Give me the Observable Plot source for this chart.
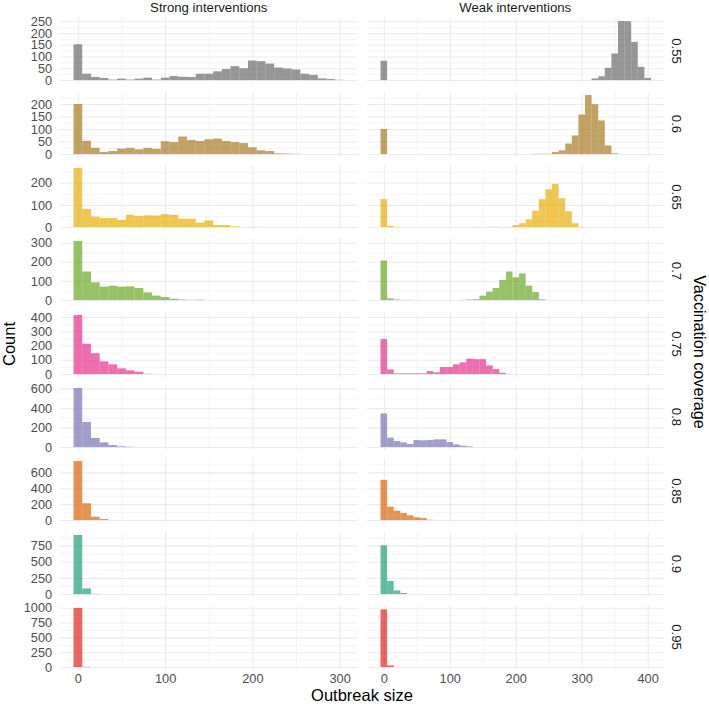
<!DOCTYPE html>
<html><head><meta charset="utf-8">
<script src="https://cdn.jsdelivr.net/npm/d3@7"></script>
<script src="https://cdn.jsdelivr.net/npm/@observablehq/plot@0.6"></script>
<style>
body{margin:0;background:#fff;}
#chart{position:relative;width:709px;height:708px;font-family:"Liberation Sans",Arial,Helvetica,sans-serif;overflow:hidden;}
#chart svg{position:absolute;}
.lbl{position:absolute;white-space:nowrap;line-height:1;}
</style></head><body><div id="chart"></div>
<script>
// ---- data: counts per 10-wide bin (bin k centred on 10*k) ----
const coverages = ["0.55","0.6","0.65","0.7","0.75","0.8","0.85","0.9","0.95"];
const columns = ["Strong interventions","Weak interventions"];
const colors = ["#666666","#A6761D","#E6AB02","#66A61E","#E7298A","#7570B3","#D95F02","#1B9E77","#E41A1C"];

const strong055 = [152,27,13,9,2,6,2,6,10,2,10,17,14,13,27,27,37,47,59,50,83,80,70,53,49,45,27,22,7,4,1];
const weak055   = [82,0,0,0,0,0,0,0,0,0, 0,0,0,0,0,0,0,0,0,0, 0,0,0,0,0,0,0,0,0,0, 0,0,7,16,52,113,251,250,162,56, 9];
const strong06  = [200,53,25,8,12,22,25,19,25,21,51,48,70,56,52,59,62,52,48,44,27,15,12,3,2,1];
const weak06    = [100,0,0,0,0,0,0,0,0,0, 0,0,0,0,0,0,0,0,0,0, 0,0,0,1,1,1,8,15,42,74, 158,236,199,134,34,3];
const strong065 = [267,82,47,41,41,32,55,50,53,52,58,55,38,38,20,30,9,9,3,0,1];
const weak065   = [126,5,1,0,0,0,0,0,0,0, 0,0,0,0,1,0,1,1,0,1, 9,17,35,74,126,171,195,130,71,17, 1];
const strong07  = [309,149,93,70,75,70,72,63,40,23,16,7,3,1,2];
const weak07    = [207,9,3,1,1,0,0,0,0,0, 0,0,1,3,5,23,44,63,105,149, 119,139,75,42,4];
const strong075 = [414,212,146,89,68,40,26,16,2];
const weak075   = [245,33,5,5,5,5,5,21,12,49, 49,68,82,108,104,104,61,35,9];
const strong08  = [607,257,93,48,21,7,3];
const weak08    = [346,96,62,48,31,72,69,72,79,79,51,27,14,7];
const strong085 = [744,211,42,13];
const weak085   = [507,169,118,89,59,34,25,4];
const strong09  = [916,88,3];
const weak09    = [755,202,57,16];
const strong095 = [996,4];
const weak095   = [972,28];

const strongCounts = [strong055,strong06,strong065,strong07,strong075,strong08,strong085,strong09,strong095];
const weakCounts   = [weak055,weak06,weak065,weak07,weak075,weak08,weak085,weak09,weak095];

const yTicks = [[0,50,100,150,200,250],[0,50,100,150,200],[0,100,200],[0,100,200,300],[0,100,200,300,400],
                [0,200,400,600],[0,200,400,600],[0,250,500,750],[0,250,500,750,1000]];
const strongXTicks = [0,100,200,300];
const weakXTicks = [0,100,200,300,400];
const BIN = 10;

// ---- layout ----
const panelLeft = [60, 366.5], PW = 297.5, PH = 65, rowTop0 = 18.3, rowStep = 73.33;
const chart = document.getElementById("chart");
const GRID = "#ebebeb";

function xDomainOf(cols){
  const maxK = d3.max(cols, c => c.length - 1);
  const lo = -BIN/2, hi = maxK*BIN + BIN/2, pad = 0.05*(hi-lo);
  return [lo-pad, hi+pad];
}
const xDomains = [xDomainOf(strongCounts), xDomainOf(weakCounts)];
const xTicks = [strongXTicks, weakXTicks];
function minorOf(ticks, dom){
  const s = ticks[1]-ticks[0];
  const m = [ticks[0]-s/2, ...ticks.map(t => t + s/2)];
  return m.filter(v => v >= dom[0] && v <= dom[1]);
}
const fmt = d => String(d);

const style = {fontFamily:'"Liberation Sans",Arial,Helvetica,sans-serif', fontSize:"12.8px", color:"#4d4d4d", background:"transparent", overflow:"visible"};

for (let r = 0; r < coverages.length; r++) {
  const M = d3.max([...strongCounts[r], ...weakCounts[r]]);
  const yDom = [-0.05*M, 1.05*M];
  const yMinor = minorOf(yTicks[r], yDom);
  for (let c = 0; c < 2; c++) {
    const counts = c === 0 ? strongCounts[r] : weakCounts[r];
    const bars = counts.map((n,k) => ({x1: k*BIN - BIN/2, x2: k*BIN + BIN/2, y1: 0, y2: n}));
    const mL = c === 0 ? 60 : 0;
    const mB = r === coverages.length-1 ? 24 : 0;
    const xMinor = minorOf(xTicks[c], xDomains[c]);
    const svg = Plot.plot({
      width: PW + mL, height: PH + mB,
      marginLeft: mL, marginRight: 0, marginTop: 0, marginBottom: mB,
      style,
      x: {domain: xDomains[c], axis: null},
      y: {domain: yDom, axis: null},
      marks: [
        Plot.gridY(yMinor, {stroke: GRID, strokeOpacity: 1, strokeWidth: 0.55}),
        Plot.gridX(xMinor, {stroke: GRID, strokeOpacity: 1, strokeWidth: 0.55}),
        Plot.gridY(yTicks[r], {stroke: GRID, strokeOpacity: 1, strokeWidth: 1.1}),
        Plot.gridX(xTicks[c], {stroke: GRID, strokeOpacity: 1, strokeWidth: 1.1}),
        Plot.rect(bars, {x1: "x1", x2: "x2", y1: "y1", y2: "y2", fill: colors[r], fillOpacity: 0.68}),
        c === 0 ? Plot.axisY(yTicks[r], {tickSize: 0, tickPadding: 8.3, label: null, fill: "#4d4d4d", tickFormat: fmt}) : null,
        r === coverages.length-1 ? Plot.axisX(xTicks[c], {tickSize: 0, tickPadding: 3.5, label: null, fill: "#4d4d4d", tickFormat: fmt}) : null
      ]
    });
    svg.style.left = (panelLeft[c] - mL) + "px";
    svg.style.top = (rowTop0 + r*rowStep) + "px";
    chart.appendChild(svg);
  }
}

function label(text, x, y, size, color, rot){
  const d = document.createElement("div");
  d.className = "lbl";
  d.textContent = text;
  d.style.left = x + "px"; d.style.top = y + "px";
  d.style.fontSize = size + "px"; d.style.color = color;
  d.style.transform = "translate(-50%,-50%)" + (rot ? ` rotate(${rot}deg)` : "");
  chart.appendChild(d);
}
columns.forEach((t,c) => label(t, panelLeft[c] + PW/2, 7.5, 13.2, "#1a1a1a", 0));
coverages.forEach((t,r) => label(t, 676, rowTop0 + r*rowStep + PH/2, 13.2, "#1a1a1a", 90));
label("Count", 9, rowTop0 + (8*rowStep + PH)/2, 16.5, "#000", -90);
label("Vaccination coverage", 699.5, 352, 16.2, "#000", 90);
label("Outbreak size", (panelLeft[0] + panelLeft[1] + PW)/2, 695, 16.5, "#000", 0);
</script></body></html>
